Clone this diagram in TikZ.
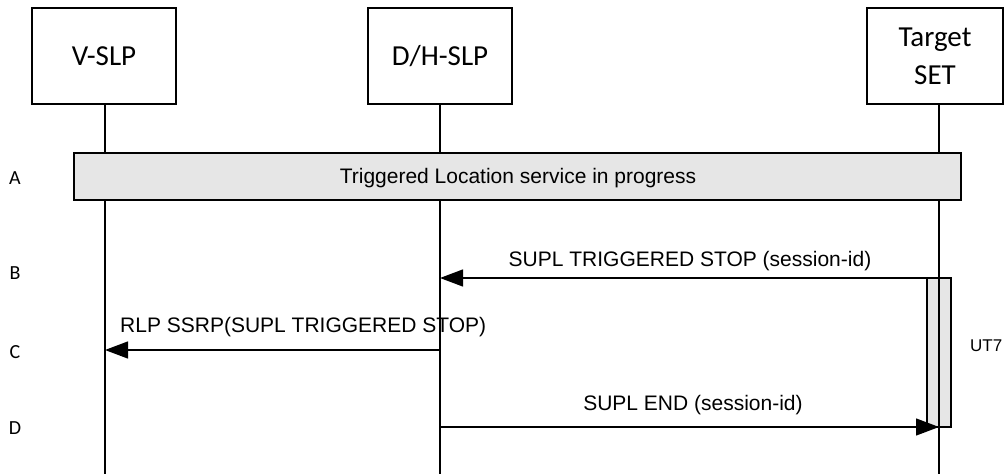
\documentclass[tikz,border=0pt]{standalone}
\usepackage{fontspec}
\setmainfont{Liberation Sans}
\newfontfamily\carlitofont{Carlito}
\usetikzlibrary{arrows.meta}
\definecolor{barfill}{HTML}{E6E6E6}
\tikzset{
  entity/.style={draw, line width=1.3pt, minimum height=96pt, font=\carlitofont\fontsize{29}{38}\selectfont, align=center, inner sep=0pt},
  life/.style={line width=1.3pt},
  msg/.style={line width=1.3pt, -{Triangle[length=23pt,width=17pt]}},
  msgtext/.style={font=\fontsize{21}{25}\selectfont, inner sep=0pt},
  steplabel/.style={font=\carlitofont\fontsize{20}{22}\selectfont, inner sep=0pt},
  bar/.style={draw, line width=1.3pt, fill=barfill},
}
\begin{document}
\begin{tikzpicture}[x=1pt,y=-1pt]
\useasboundingbox (0,0) rectangle (1004,474);
% entities
\node[entity, minimum width=144pt] (vslp) at (104,56) {V-SLP};
\node[entity, minimum width=144pt] (hslp) at (440,56) {D/H-SLP};
\node[entity, minimum width=136pt] (set) at (935,56) {Target\\SET};
% lifeline ends
\coordinate (vtop) at (105,104);
\coordinate (vbot) at (105,474);
\coordinate (htop) at (440,104);
\coordinate (hbot) at (440,474);
\coordinate (stop) at (939,104);
\coordinate (sbot) at (939,474);
% activation box
\node[bar, minimum width=24pt, minimum height=149pt, inner sep=0pt] (act) at (939,352.5) {};
% lifelines
\draw[life] (vtop) -- (vbot);
\draw[life] (htop) -- (hbot);
\draw[life] (stop) -- (sbot);
% bar A
\node[bar, minimum width=887pt, minimum height=47pt, inner sep=0pt] (barA) at (517.5,176.5) {};
\node[msgtext] (barAtext) at (518,178) {Triggered Location service in progress};
% step labels
\node[steplabel] (lA) at (15,178) {A};
\node[steplabel] (lB) at (15,273) {B};
\node[steplabel] (lC) at (15,352) {C};
\node[steplabel] (lD) at (15,428) {D};
% message endpoints
\coordinate (sB) at (939,278);
\coordinate (hB) at (440,278);
\coordinate (hC) at (440,350);
\coordinate (vC) at (105,350);
\coordinate (hD) at (440,427);
\coordinate (sD) at (939,427);
% messages
\draw[msg] (sB) -- (hB);
\node[msgtext] (tB) at (690,261) {SUPL TRIGGERED STOP (session-id)};
\draw[msg] (hC) -- (vC);
\node[msgtext, anchor=west] (tC) at (120,327) {RLP SSRP(SUPL TRIGGERED STOP)};
\draw[msg] (hD) -- (sD);
\node[msgtext] (tD) at (693,405) {SUPL END (session-id)};
\node[font=\fontsize{17}{20}\selectfont, inner sep=0pt, anchor=west] (ut7) at (970,346) {UT7};
\end{tikzpicture}
\end{document}
